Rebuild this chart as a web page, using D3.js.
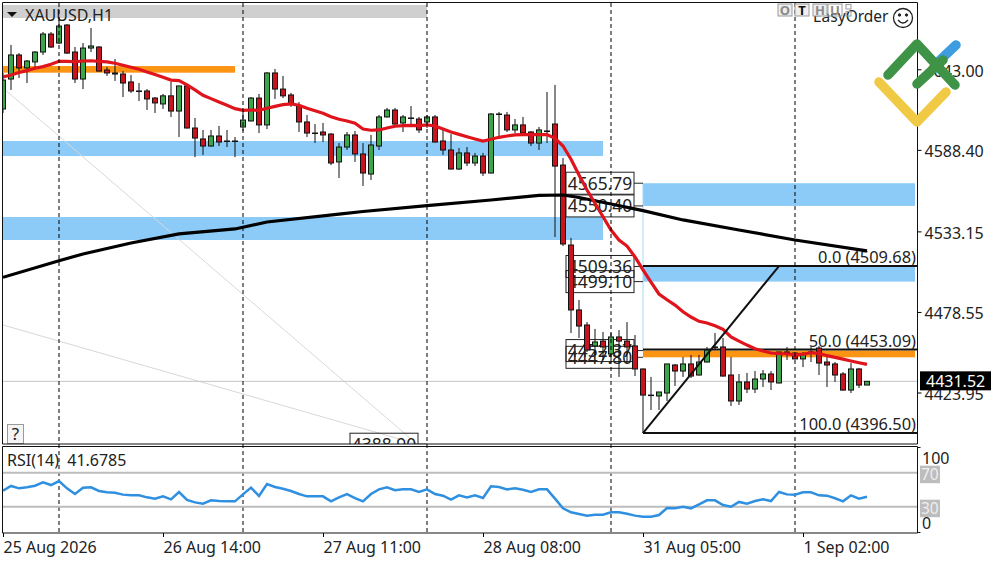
<!DOCTYPE html>
<html>
<head>
<meta charset="utf-8">
<script src="https://cdn.jsdelivr.net/npm/d3@7"></script>
<style>
  html, body { margin: 0; padding: 0; background: #fff; }
  svg { display: block; }
  text { font-family: "Noto Sans", sans-serif; fill: #222; }
</style>
</head>
<body>
<div id="chart"></div>
<script>
// Données (XAUUSD, H1)
const opens = [
  4616.1,4636.4,4652.7,4643.9,4648.0,4654.7,4666.9,4660.8,4673.0,4654.7,
  4636.4,4657.4,4658.1,4642.5,4640.5,4639.8,4634.4,4628.3,4628.3,4623.5,
  4619.5,4625.0,4614.7,4631.7,4603.2,4595.8,4591.0,4597.8,4594.4,4594.4,
  4603.9,4608.0,4623.5,4605.3,4640.5,4629.6,4625.6,4618.1,4607.3,4599.8,
  4600.5,4599.1,4580.2,4590.3,4598.5,4585.6,4572.0,4591.0,4610.7,4615.4,
  4606.6,4610.0,4609.3,4607.3,4610.7,4594.4,4588.3,4575.4,4586.3,4579.5,
  4584.2,4572.7,4612.7,4612.0,4601.9,4605.3,4600.5,4593.0,4601.2,4605.9,
  4578.1,4523.9,4479.9,4469.7,4455.5,4458.8,4450.0,4461.6,4458.8,4455.5,
  4439.9,4422.2,4421.6,4423.6,4442.6,4438.5,4443.3,4435.8,4444.6,4454.8,
  4454.8,4435.8,4418.2,4431.1,4426.3,4433.1,4436.5,4430.4,4451.4,4450.7,
  4446.7,4451.4,4454.1,4444.6,4443.3,4436.5,4425.6,4439.9,4429.0];
const highs = [
  4640.5,4659.5,4654.0,4649.3,4655.4,4668.3,4668.3,4676.4,4673.7,4658.1,
  4660.8,4671.0,4658.8,4644.6,4650.0,4641.8,4639.1,4633.7,4629.6,4624.2,
  4626.3,4634.4,4631.7,4633.0,4610.0,4601.9,4601.9,4604.6,4601.9,4597.1,
  4614.1,4624.2,4626.3,4641.2,4643.2,4638.5,4627.0,4620.8,4612.0,4605.9,
  4606.6,4599.8,4593.0,4600.5,4601.2,4593.0,4598.5,4612.0,4616.8,4616.8,
  4612.0,4618.1,4610.7,4612.0,4612.0,4603.2,4599.1,4589.6,4590.3,4586.3,
  4586.3,4613.4,4614.1,4614.1,4609.3,4610.7,4601.2,4603.9,4627.6,4632.4,
  4582.9,4528.7,4486.6,4471.7,4467.0,4465.0,4464.3,4466.3,4471.7,4462.9,
  4440.2,4434.5,4424.3,4443.3,4443.3,4448.0,4449.4,4449.4,4454.8,4464.3,
  4460.9,4448.0,4436.5,4437.2,4438.5,4439.2,4438.5,4451.4,4454.8,4451.4,
  4451.4,4454.8,4455.5,4448.0,4444.6,4437.8,4443.9,4440.6,4431.52];
const lows = [
  4613.4,4629.0,4637.1,4633.7,4644.6,4652.7,4657.4,4660.1,4653.4,4633.7,
  4629.6,4654.7,4641.5,4638.5,4635.1,4624.2,4627.0,4621.5,4615.4,4613.4,
  4616.1,4610.7,4597.1,4602.9,4583.5,4584.9,4590.7,4591.0,4590.3,4583.5,
  4601.2,4607.6,4599.8,4602.5,4622.9,4623.5,4617.5,4600.5,4597.1,4593.0,
  4593.7,4578.1,4569.3,4588.3,4580.2,4563.9,4568.0,4588.3,4610.3,4605.3,
  4600.5,4603.9,4599.8,4603.2,4593.4,4584.9,4575.1,4574.7,4577.4,4577.4,
  4570.7,4572.4,4597.8,4600.5,4599.8,4599.5,4591.0,4588.3,4593.0,4529.3,
  4523.2,4464.3,4460.9,4451.4,4449.4,4446.0,4446.0,4434.5,4443.9,4435.1,
  4421.9,4412.1,4412.1,4418.2,4428.4,4434.5,4433.8,4435.5,4444.3,4452.7,
  4434.8,4414.8,4415.5,4423.6,4423.6,4427.7,4425.6,4430.1,4446.0,4446.4,
  4441.2,4444.6,4435.8,4427.7,4431.1,4425.3,4423.6,4427.0,4429.0];
const closes = [
  4635.7,4652.7,4643.9,4648.6,4654.7,4666.9,4658.1,4672.3,4654.0,4636.4,
  4657.4,4658.8,4641.8,4640.5,4639.8,4633.7,4628.3,4628.3,4622.9,4620.2,
  4625.0,4614.7,4631.7,4603.2,4596.4,4591.0,4597.8,4593.7,4594.1,4594.1,
  4608.6,4623.5,4605.3,4640.5,4629.6,4625.0,4619.5,4607.3,4599.8,4599.5,
  4598.5,4579.5,4590.3,4598.5,4585.6,4572.7,4591.7,4610.7,4615.4,4605.9,
  4610.7,4609.7,4601.9,4610.7,4593.7,4588.3,4575.4,4586.3,4579.5,4584.2,
  4572.7,4612.7,4612.4,4601.9,4605.3,4599.8,4593.0,4601.9,4600.8,4577.4,
  4524.6,4479.9,4469.0,4452.7,4458.2,4454.8,4461.6,4458.8,4454.8,4439.9,
  4422.2,4421.9,4424.3,4443.3,4438.5,4443.3,4435.1,4444.6,4452.7,4454.5,
  4435.1,4418.2,4431.1,4426.3,4433.1,4436.5,4431.1,4451.4,4450.7,4446.7,
  4450.0,4451.0,4443.9,4442.6,4435.8,4425.6,4439.9,4429.0,4431.52];

// moyenne mobile rapide (une valeur par barre)
const maFast = [
  4637.8,4639.1,4640.8,4642.1,4643.7,4644.8,4646.4,4648.4,4648.4,4648.1,
  4648.6,4648.8,4648.4,4648.0,4647.1,4645.7,4644.4,4643.0,4641.2,4639.4,
  4637.6,4635.7,4635.3,4632.4,4629.0,4625.4,4623.1,4620.8,4618.6,4616.3,
  4615.2,4615.4,4615.2,4616.6,4617.9,4619.0,4619.5,4618.6,4616.6,4614.9,
  4613.2,4610.9,4609.1,4608.0,4606.4,4602.5,4601.7,4601.9,4603.2,4604.4,
  4604.8,4605.0,4604.8,4605.3,4604.6,4602.5,4600.5,4598.9,4597.3,4595.8,
  4594.4,4595.6,4596.9,4597.8,4598.5,4598.7,4598.7,4598.7,4598.7,4596.2,
  4591.0,4582.0,4571.4,4561.2,4552.2,4543.1,4534.1,4527.3,4523.2,4515.8,
  4507.0,4498.8,4490.7,4486.8,4483.2,4478.7,4475.1,4472.2,4471.1,4469.2,
  4466.8,4461.6,4458.8,4456.1,4453.6,4452.1,4450.7,4450.2,4450.2,4449.4,
  4450.0,4450.9,4450.5,4448.9,4447.8,4446.6,4445.3,4444.1,4443.0];

// moyenne mobile lente
const maSlowBars = [0,7,10,16,22,29,33,42,45,53,61,67,70,72,76,80,85,92,99,108];
const maSlow = [4502.0,4513.3,4517.8,4525.3,4531.4,4534.8,4539.5,4544.9,4546.6,4550.6,4554.4,4557.5,4557.8,4556.1,4551.7,4547.2,4540.9,4534.1,4527.3,4519.9];

const rsi = [
  48.9,54.4,51.6,52.8,54.7,58.7,55.5,60.2,51.6,44.9,
  52.4,52.8,48.5,46.9,46.5,44.2,43.4,43.4,41.0,39.5,
  42.2,38.7,47.3,37.9,35.1,33.6,37.5,36.7,36.3,36.3,
  44.5,52.4,42.6,56.7,53.2,51.2,48.5,44.9,42.2,42.2,
  42.2,36.3,41.0,44.9,40.2,36.3,44.9,50.4,52.8,49.3,
  50.4,50.4,47.3,50.4,44.9,43.0,38.3,43.4,41.0,43.4,
  40.2,54.0,53.2,50.4,51.6,50.0,47.3,50.4,50.4,39.5,
  28.1,23.4,21.4,19.5,20.6,20.6,23.4,23.4,21.8,19.5,
  18.3,18.3,20.2,28.5,28.1,30.0,28.1,32.8,37.5,37.5,
  32.0,30.0,35.6,33.6,36.7,38.7,36.7,47.3,44.5,44.2,
  46.9,46.9,43.4,43.0,39.9,36.3,43.4,39.5,41.68];

// zones (bleu : offre / demande, orange : pivot)
const blueTop = [4594.4, 4542.9, 4565.79, 4509.36];
const blueBottom = [4584.2, 4527.3, 4550.40, 4499.10];
const blueFrom = [0, 0, 80, 80];
const blueTo = [75, 75, 114, 114];
const orangeTop = [4645.2, 4452.37];
const orangeBottom = [4640.7, 4447.80];
const orangeFrom = [0, 80];
const orangeTo = [29, 114];

// étiquettes de prix
const tagTexts = ["4565.79", "4550.40", "4509.36", "4499.10", "4452.37", "4447.80", "4388.90"];
const tagPrices = [4565.79, 4550.40, 4509.36, 4499.10, 4452.37, 4447.80, 4388.90];
const tagBars = [80, 80, 80, 80, 80, 80, 53];

// retracement de Fibonacci
const fiboLevels = ["0.0", "50.0", "100.0"];
const fiboPrices = [4509.68, 4453.09, 4396.50];
const fiboFromBar = 80;
const fiboToBar = 97;

const priceTicks = [4643.00, 4588.40, 4533.15, 4478.55, 4423.95];
const lastPrice = 4431.52;
const dateBars = [0, 20, 40, 60, 80, 100];
const dateLabels = ["25 Aug 2026", "26 Aug 14:00", "27 Aug 11:00", "28 Aug 08:00", "31 Aug 05:00", "1 Sep 02:00"];
const separatorBars = [7, 30, 53, 76, 99];

//---------------------------------------------------------------------------------------

const width = 1000;
const height = 562;
const left = 3;
const right = 917.5;
const mainTop = 3;
const mainBottom = 444;
const subTop = 446.5;
const subBottom = 533;

const svg = d3.select("#chart").append("svg")
  .attr("width", width)
  .attr("height", height)
  .attr("viewBox", [0, 0, width, height]);

svg.append("rect").attr("width", width).attr("height", height).attr("fill", "#fff");

// échelles
const scaleX = d3.scaleLinear().domain([0, 108]).range([3, 867]);
const scaleY = d3.scaleLinear().domain([4389.05, 4686.57]).range([mainBottom, 5]);
const scaleRsi = d3.scaleLinear().domain([0, 100]).range([532.2, 447.2]);

const defs = svg.append("defs");
defs.append("clipPath").attr("id", "clip-main").append("rect")
  .attr("x", left).attr("y", mainTop).attr("width", right - left).attr("height", mainBottom - mainTop);
defs.append("clipPath").attr("id", "clip-sub").append("rect")
  .attr("x", left).attr("y", subTop).attr("width", right - left).attr("height", subBottom - subTop);

const plot = svg.append("g").attr("clip-path", "url(#clip-main)");

//---------------------------------------------------------------------------------------

// bandeau du titre
plot.append("rect")
  .attr("x", left).attr("y", 5)
  .attr("width", scaleX(53) - left).attr("height", 13)
  .attr("fill", "#cfcfcf");

// zones bleues et orange
plot.selectAll(".blue")
  .data(blueTop)
  .join("rect")
  .attr("class", "blue")
  .attr("x", (d, i) => scaleX(blueFrom[i]))
  .attr("y", d => scaleY(d))
  .attr("width", (d, i) => scaleX(blueTo[i]) - scaleX(blueFrom[i]))
  .attr("height", (d, i) => scaleY(blueBottom[i]) - scaleY(d))
  .attr("fill", "#8ccbf7");

plot.selectAll(".orange")
  .data(orangeTop)
  .join("rect")
  .attr("class", "orange")
  .attr("x", (d, i) => scaleX(orangeFrom[i]))
  .attr("y", d => scaleY(d))
  .attr("width", (d, i) => scaleX(orangeTo[i]) - scaleX(orangeFrom[i]))
  .attr("height", (d, i) => scaleY(orangeBottom[i]) - scaleY(d))
  .attr("fill", "#fb9412");

// filet vertical bleu clair de la zone de droite
plot.append("line")
  .attr("x1", scaleX(80)).attr("x2", scaleX(80))
  .attr("y1", scaleY(blueTop[2])).attr("y2", scaleY(orangeTop[1]))
  .attr("stroke", "#a9d6f2");

// droites grises fines
plot.append("line")
  .attr("x1", scaleX(0)).attr("y1", scaleY(4630.3))
  .attr("x2", scaleX(51.75)).attr("y2", scaleY(4389))
  .attr("stroke", "#d8d8d8");
plot.append("line")
  .attr("x1", scaleX(0)).attr("y1", scaleY(4469.7))
  .attr("x2", scaleX(51.75)).attr("y2", scaleY(4389))
  .attr("stroke", "#d8d8d8");

// dernier prix
plot.append("line")
  .attr("x1", left).attr("x2", right)
  .attr("y1", scaleY(lastPrice)).attr("y2", scaleY(lastPrice))
  .attr("stroke", "#c4c4c4");

// étiquettes de prix
const tags = plot.selectAll(".tag")
  .data(tagTexts)
  .join("g")
  .attr("class", "tag")
  .attr("transform", (d, i) => `translate(${scaleX(tagBars[i])}, ${scaleY(tagPrices[i])})`);

tags.append("line")
  .attr("x1", -9).attr("x2", 0)
  .attr("stroke", "#222");

tags.append("rect")
  .attr("x", -77).attr("y", -11)
  .attr("width", 68).attr("height", 22)
  .attr("fill", "none")
  .attr("stroke", "#222");

tags.append("text")
  .attr("x", -43).attr("y", 6.5)
  .attr("text-anchor", "middle")
  .attr("font-size", 17.4)
  .text(d => d);

// niveaux de Fibonacci
plot.selectAll(".fibo")
  .data(fiboPrices)
  .join("line")
  .attr("class", "fibo")
  .attr("x1", scaleX(fiboFromBar)).attr("x2", right)
  .attr("y1", d => scaleY(d)).attr("y2", d => scaleY(d))
  .attr("stroke", "#111")
  .attr("stroke-width", 2);

plot.append("line")
  .attr("x1", scaleX(fiboFromBar)).attr("x2", scaleX(fiboFromBar))
  .attr("y1", scaleY(fiboPrices[2])).attr("y2", scaleY(lows[80]))
  .attr("stroke", "#111");

plot.selectAll(".fibo-label")
  .data(fiboLevels)
  .join("text")
  .attr("class", "fibo-label")
  .attr("x", 916)
  .attr("y", (d, i) => scaleY(fiboPrices[i]) - 3)
  .attr("text-anchor", "end")
  .attr("font-size", 16.4)
  .text((d, i) => `${d} (${fiboPrices[i].toFixed(2)})`);

// séparateurs de jours
svg.selectAll(".sep")
  .data(separatorBars)
  .join("line")
  .attr("class", "sep")
  .attr("x1", d => scaleX(d)).attr("x2", d => scaleX(d))
  .attr("y1", mainTop).attr("y2", subBottom)
  .attr("stroke", "#000")
  .attr("stroke-dasharray", "4,3");

//---------------------------------------------------------------------------------------

// bougies
const candles = plot.selectAll(".candle")
  .data(closes)
  .join("g")
  .attr("class", "candle");

candles.append("line")
  .attr("x1", (d, i) => scaleX(i)).attr("x2", (d, i) => scaleX(i))
  .attr("y1", (d, i) => scaleY(highs[i])).attr("y2", (d, i) => scaleY(lows[i]))
  .attr("stroke", "#111");

candles.append("rect")
  .attr("x", (d, i) => scaleX(i) - 2.5)
  .attr("y", (d, i) => scaleY(Math.max(opens[i], closes[i])))
  .attr("width", 5)
  .attr("height", (d, i) => Math.max(0.5, Math.abs(scaleY(opens[i]) - scaleY(closes[i]))))
  .attr("fill", (d, i) => closes[i] >= opens[i] ? "#3ba54a" : "#c8141f")
  .attr("stroke", "#111")
  .attr("stroke-width", 1);

// moyennes mobiles
plot.append("path")
  .attr("d", d3.line().x((d, i) => scaleX(maSlowBars[i])).y(d => scaleY(d))(maSlow))
  .attr("fill", "none")
  .attr("stroke", "#000")
  .attr("stroke-width", 3.2);

plot.append("path")
  .attr("d", d3.line().x((d, i) => scaleX(i)).y(d => scaleY(d))(maFast))
  .attr("fill", "none")
  .attr("stroke", "#e0141c")
  .attr("stroke-width", 3.2);

// droite du retracement
plot.append("line")
  .attr("x1", scaleX(fiboFromBar)).attr("y1", scaleY(fiboPrices[2]))
  .attr("x2", scaleX(fiboToBar)).attr("y2", scaleY(fiboPrices[0]))
  .attr("stroke", "#111")
  .attr("stroke-width", 2);

// titre
plot.append("path")
  .attr("d", "M7,12L17,12L12,17Z")
  .attr("fill", "#111");
plot.append("text")
  .attr("x", 25).attr("y", 21)
  .attr("font-size", 16)
  .text("XAUUSD,H1");

// bouton d'aide
plot.append("rect")
  .attr("x", 7.5).attr("y", 424.5)
  .attr("width", 16).attr("height", 19)
  .attr("fill", "#f4f4f4")
  .attr("stroke", "#9a9a9a");
plot.append("text")
  .attr("x", 15.5).attr("y", 440)
  .attr("text-anchor", "middle")
  .attr("font-size", 17)
  .text("?");

//---------------------------------------------------------------------------------------

// panneau RSI
const sub = svg.append("g").attr("clip-path", "url(#clip-sub)");

sub.selectAll(".level")
  .data([70, 30])
  .join("line")
  .attr("class", "level")
  .attr("x1", left).attr("x2", right)
  .attr("y1", d => scaleRsi(d)).attr("y2", d => scaleRsi(d))
  .attr("stroke", "#bdbdbd")
  .attr("stroke-width", 2);

sub.append("path")
  .attr("d", d3.line().x((d, i) => scaleX(i)).y(d => scaleRsi(d))(rsi))
  .attr("fill", "none")
  .attr("stroke", "#2f8fe0")
  .attr("stroke-width", 2.5);

svg.append("text")
  .attr("x", 7).attr("y", 466)
  .attr("font-size", 16)
  .attr("word-spacing", 4)
  .text(`RSI(14) ${(41.6785).toFixed(4)}`);

//---------------------------------------------------------------------------------------

// cadres
svg.append("path")
  .attr("d", `M2.5,${mainBottom}V2.5H${right}V${mainBottom}Z`)
  .attr("fill", "none").attr("stroke", "#111");
svg.append("path")
  .attr("d", `M2.5,${subBottom}V${subTop}H${right}V${subBottom}Z`)
  .attr("fill", "none").attr("stroke", "#111");

// axe des prix
svg.append("g")
  .attr("transform", `translate(${right}, 0)`)
  .call(d3.axisRight(scaleY)
    .tickValues(priceTicks)
    .tickSize(4)
    .tickPadding(3)
    .tickFormat(d3.format(".2f")))
  .call(g => g.select(".domain").remove())
  .call(g => g.selectAll("text").attr("font-size", 16).attr("dy", "0.42em").style("font-family", null).attr("fill", null));

// axe du temps
svg.append("g")
  .attr("transform", `translate(0, ${subBottom})`)
  .call(d3.axisBottom(scaleX)
    .tickValues(dateBars)
    .tickSize(4)
    .tickPadding(5)
    .tickFormat((d, i) => dateLabels[i]))
  .call(g => g.select(".domain").remove())
  .call(g => g.selectAll("text").attr("font-size", 16).attr("text-anchor", "start").style("font-family", null).attr("fill", null));

// étiquette du dernier prix
svg.append("rect")
  .attr("x", 920).attr("y", scaleY(lastPrice) - 10)
  .attr("width", 71).attr("height", 19)
  .attr("fill", "#000");
svg.append("text")
  .attr("x", 926).attr("y", scaleY(lastPrice) + 6)
  .attr("font-size", 16)
  .style("fill", "#fff")
  .text(lastPrice.toFixed(2));

// axe RSI
svg.selectAll(".rsi-box")
  .data([70, 30])
  .join("rect")
  .attr("class", "rsi-box")
  .attr("x", 920)
  .attr("y", d => scaleRsi(d) - 7)
  .attr("width", 20).attr("height", 17.5)
  .attr("fill", "#bdbdbd");

svg.selectAll(".rsi-level")
  .data([70, 30])
  .join("text")
  .attr("class", "rsi-level")
  .attr("x", 921)
  .attr("y", d => scaleRsi(d) + 7)
  .attr("font-size", 15.5)
  .style("fill", "#eeeeee")
  .text(d => d);

svg.append("text").attr("x", 922).attr("y", 464).attr("font-size", 16).text("100");
svg.append("text").attr("x", 922).attr("y", 529).attr("font-size", 16).text("0");
svg.append("line").attr("x1", right).attr("x2", right + 3).attr("y1", 447.5).attr("y2", 447.5).attr("stroke", "#111");
svg.append("line").attr("x1", right).attr("x2", right + 3).attr("y1", 532.5).attr("y2", 532.5).attr("stroke", "#111");

//---------------------------------------------------------------------------------------

// boutons du panneau EasyOrder
svg.append("text")
  .attr("x", 813).attr("y", 22)
  .attr("font-size", 15.5)
  .text("EasyOrder");

const buttons = [["O", 778, "#8a8a8a"], ["T", 795, "#111"], ["H", 813, "#8a8a8a"], ["U", 828, "#8a8a8a"]];
const btn = svg.selectAll(".btn")
  .data(buttons)
  .join("g")
  .attr("class", "btn")
  .attr("transform", d => `translate(${d[1]}, 4)`);
btn.append("rect")
  .attr("width", 14).attr("height", 12)
  .attr("fill", (d, i) => i == 3 ? "none" : "#eee")
  .attr("stroke", "#9a9a9a");
btn.append("text")
  .attr("x", 7).attr("y", 11)
  .attr("text-anchor", "middle")
  .attr("font-size", 13)
  .attr("font-weight", "bold")
  .style("fill", d => d[2])
  .text(d => d[0]);
svg.selectAll(".mini")
  .data([4.5, 11.5])
  .join("rect")
  .attr("class", "mini")
  .attr("x", 846).attr("y", d => d)
  .attr("width", 5).attr("height", 4.5)
  .attr("fill", "none")
  .attr("stroke", "#9a9a9a");

// smiley
const smile = svg.append("g").attr("transform", "translate(903, 18)").attr("fill", "none").attr("stroke", "#222");
smile.append("circle").attr("r", 9.5).attr("stroke-width", 1.3);
smile.append("path").attr("d", "M-5,2Q0,8 5,2").attr("stroke-width", 1.3);
smile.append("circle").attr("cx", -3.5).attr("cy", -3).attr("r", 1.2).attr("fill", "#222");
smile.append("circle").attr("cx", 3.5).attr("cy", -3).attr("r", 1.2).attr("fill", "#222");

// logo
const logoLine = (d, col) => svg.append("path")
  .attr("d", d)
  .attr("fill", "none")
  .attr("stroke", col)
  .attr("stroke-width", 9.5)
  .attr("stroke-linecap", "round")
  .attr("stroke-linejoin", "round");
logoLine("M879,82L917,122L946,92", "#f0c945");
logoLine("M938,62L956,45", "#3d9de0");
logoLine("M888,75L917,44L955,85", "#3f9347");
logoLine("M917,84L943,60", "#3f9347");
</script>
</body>
</html>
